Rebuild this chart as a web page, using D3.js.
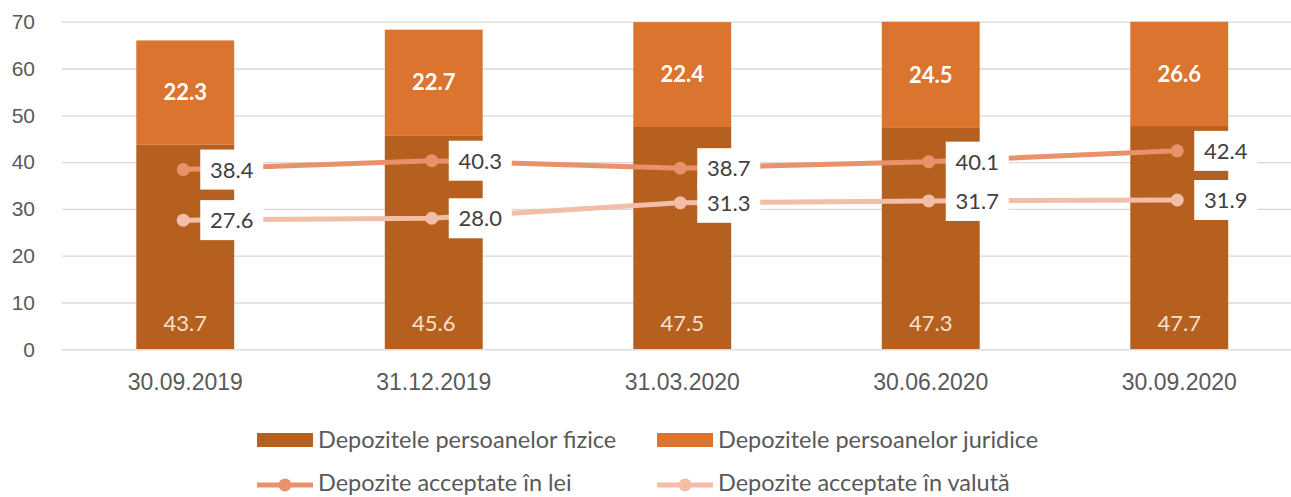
<!DOCTYPE html>
<html>
<head>
<meta charset="utf-8">
<script src="https://cdn.jsdelivr.net/npm/d3@7"></script>
<style>
  body { margin: 0; background: #fff; }
  svg { display: block; font-family: Lato, "Open Sans", sans-serif; }
</style>
</head>
<body>
<svg id="chart" width="1291" height="497"></svg>
<script>
const categories = ['30.09.2019', '31.12.2019', '31.03.2020', '30.06.2020', '30.09.2020']
const fizice = [43.7, 45.6, 47.5, 47.3, 47.7]
const juridice = [22.3, 22.7, 22.4, 24.5, 26.6]
const lei = [38.4, 40.3, 38.7, 40.1, 42.4]
const valuta = [27.6, 28.0, 31.3, 31.7, 31.9]
const yTicks = [0, 10, 20, 30, 40, 50, 60, 70]

const svg = d3.select('#chart')

const x = d3.scaleBand().domain(categories).range([61, 1303.5]).paddingInner(0.606).paddingOuter(0.303)
const y = d3.scaleLinear().domain([0, 70]).range([349.3, 21.7])

const colFizice = '#B5601F'
const colJuridice = '#DB742F'
const colLei = '#E9916B'
const colValuta = '#F2BEA7'

// grid + y axis
const yAxis = d3.axisLeft(y).tickValues(yTicks).tickSize(-1240).tickPadding(27)
const gy = svg.append('g').attr('transform', 'translate(62,0)').call(yAxis)
gy.select('.domain').remove()
gy.selectAll('.tick line').attr('stroke', '#D9D9D9').attr('stroke-width', 1.3)
gy.selectAll('.tick text').attr('fill', '#595959').style('font-size', '21px')

// x axis labels
const xAxis = d3.axisBottom(x).tickSize(0).tickPadding(24)
const gx = svg.append('g').attr('transform', `translate(0,${y(0)})`).call(xAxis)
gx.select('.domain').remove()
gx.selectAll('.tick text').attr('fill', '#595959').style('font-size', '23px')

// stacked bars, clipped at the top of the axis
svg.append('clipPath').attr('id', 'plot')
  .append('rect').attr('x', 0).attr('y', y(70)).attr('width', 1291).attr('height', y(0) - y(70))

const bars = svg.append('g').attr('clip-path', 'url(#plot)')
bars.selectAll('.fiz').data(categories).enter().append('rect')
  .attr('x', d => x(d)).attr('width', x.bandwidth())
  .attr('y', (d, i) => y(fizice[i])).attr('height', (d, i) => y(0) - y(fizice[i]))
  .attr('fill', colFizice)
bars.selectAll('.jur').data(categories).enter().append('rect')
  .attr('x', d => x(d)).attr('width', x.bandwidth())
  .attr('y', (d, i) => y(fizice[i] + juridice[i])).attr('height', (d, i) => y(fizice[i]) - y(fizice[i] + juridice[i]))
  .attr('fill', colJuridice)

// bar labels
svg.selectAll('.lblFiz').data(categories).enter().append('text')
  .attr('x', d => x(d) + x.bandwidth() / 2).attr('y', y(0) - 18.5)
  .attr('text-anchor', 'middle').attr('fill', '#F8E0CF').style('font-size', '22px')
  .text((d, i) => fizice[i].toFixed(1))
svg.selectAll('.lblJur').data(categories).enter().append('text')
  .attr('x', d => x(d) + x.bandwidth() / 2)
  .attr('y', (d, i) => (Math.max(y(fizice[i] + juridice[i]), y(70)) + y(fizice[i])) / 2)
  .attr('dy', '0.35em')
  .attr('text-anchor', 'middle').attr('fill', '#fff').style('font-size', '22px').style('font-weight', 'bold')
  .text((d, i) => juridice[i].toFixed(1))

// lines
const cx = d => x(d) + x.bandwidth() / 2 - 2
function drawLine(values, color) {
  const line = d3.line().x((v, i) => cx(categories[i])).y(v => y(v))
  svg.append('path').datum(values).attr('d', line)
    .attr('fill', 'none').attr('stroke', color).attr('stroke-width', 5)
  svg.selectAll(null).data(values).enter().append('circle')
    .attr('cx', (v, i) => cx(categories[i])).attr('cy', v => y(v)).attr('r', 6.5)
    .attr('fill', color)
}
drawLine(lei, colLei)
drawLine(valuta, colValuta)

function drawBoxes(values) {
  const g = svg.append('g')
  const items = g.selectAll('g').data(values).enter().append('g')
    .attr('transform', (v, i) => `translate(${cx(categories[i]) + 17},${y(v)})`)
  items.append('rect').attr('x', 0).attr('y', -20).attr('width', 63).attr('height', 40).attr('fill', '#fff')
  items.append('text').attr('x', 31.5).attr('dy', '0.36em').attr('text-anchor', 'middle')
    .attr('fill', '#404040').style('font-size', '22px').text(v => v.toFixed(1))
}
drawBoxes(lei)
drawBoxes(valuta)

// legend
const legend = svg.append('g').style('font-size', '23.5px')
const legBars = [['Depozitele persoanelor fizice', colFizice, 257], ['Depozitele persoanelor juridice', colJuridice, 657]]
legBars.forEach(([name, color, lx]) => {
  legend.append('rect').attr('x', lx).attr('y', 433).attr('width', 56).attr('height', 14).attr('fill', color)
  legend.append('text').attr('x', lx + 61).attr('y', 448).attr('fill', '#595959').text(name)
})
const legLines = [['Depozite acceptate în lei', colLei, 257], ['Depozite acceptate în valută', colValuta, 657]]
legLines.forEach(([name, color, lx]) => {
  legend.append('line').attr('x1', lx).attr('x2', lx + 56).attr('y1', 485).attr('y2', 485)
    .attr('stroke', color).attr('stroke-width', 5)
  legend.append('circle').attr('cx', lx + 28).attr('cy', 485).attr('r', 6.5).attr('fill', color)
  legend.append('text').attr('x', lx + 61).attr('y', 491).attr('fill', '#595959').text(name)
})
</script>
</body>
</html>
